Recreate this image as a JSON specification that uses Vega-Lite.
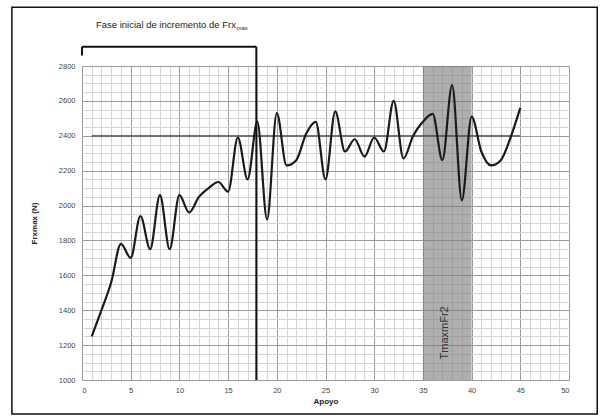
{
  "$schema": "https://vega.github.io/schema/vega-lite/v6.json",
  "width": 487,
  "height": 314,
  "autosize": {"type": "none"},
  "padding": {"left": 82, "top": 66, "right": 31, "bottom": 36},
  "background": "white",
  "config": {
    "view": {"stroke": "#8a8a8a", "strokeWidth": 1},
    "font": "Liberation Sans",
    "axis": {"labelFont": "Liberation Sans", "titleFont": "Liberation Sans"}
  },
  "datasets": {
    "curve": [
      {"apoyo": 1, "frx": 1250}, {"apoyo": 2, "frx": 1400}, {"apoyo": 3, "frx": 1560},
      {"apoyo": 4, "frx": 1780}, {"apoyo": 5, "frx": 1700}, {"apoyo": 6, "frx": 1940},
      {"apoyo": 7, "frx": 1750}, {"apoyo": 8, "frx": 2060}, {"apoyo": 9, "frx": 1750},
      {"apoyo": 10, "frx": 2060}, {"apoyo": 11, "frx": 1960}, {"apoyo": 12, "frx": 2050},
      {"apoyo": 13, "frx": 2100}, {"apoyo": 14, "frx": 2135}, {"apoyo": 15, "frx": 2080},
      {"apoyo": 16, "frx": 2390}, {"apoyo": 17, "frx": 2150}, {"apoyo": 18, "frx": 2480},
      {"apoyo": 19, "frx": 1920}, {"apoyo": 20, "frx": 2530}, {"apoyo": 21, "frx": 2230},
      {"apoyo": 22, "frx": 2260}, {"apoyo": 23, "frx": 2410}, {"apoyo": 24, "frx": 2480},
      {"apoyo": 25, "frx": 2150}, {"apoyo": 26, "frx": 2540}, {"apoyo": 27, "frx": 2310},
      {"apoyo": 28, "frx": 2380}, {"apoyo": 29, "frx": 2280}, {"apoyo": 30, "frx": 2390},
      {"apoyo": 31, "frx": 2310}, {"apoyo": 32, "frx": 2600}, {"apoyo": 33, "frx": 2270},
      {"apoyo": 34, "frx": 2400}, {"apoyo": 35, "frx": 2480}, {"apoyo": 36, "frx": 2525},
      {"apoyo": 37, "frx": 2260}, {"apoyo": 38, "frx": 2690}, {"apoyo": 39, "frx": 2030},
      {"apoyo": 40, "frx": 2510}, {"apoyo": 41, "frx": 2310}, {"apoyo": 42, "frx": 2230},
      {"apoyo": 43, "frx": 2260}, {"apoyo": 44, "frx": 2390}, {"apoyo": 45, "frx": 2560}
    ]
  },
  "resolve": {"axis": {"x": "independent", "y": "independent"}},
  "layer": [
    {
      "data": {"name": "curve"},
      "mark": {"type": "line", "strokeOpacity": 0},
      "encoding": {
        "x": {"field": "apoyo", "type": "quantitative",
          "scale": {"domain": [0, 50], "nice": false, "zero": false},
          "axis": {"orient": "bottom", "values": [0,1,2,3,4,5,6,7,8,9,10,11,12,13,14,15,16,17,18,19,20,21,22,23,24,25,26,27,28,29,30,31,32,33,34,35,36,37,38,39,40,41,42,43,44,45,46,47,48,49,50],
            "grid": true, "gridColor": "#d4d4d4", "gridWidth": 1, "labels": false, "ticks": false, "domain": false, "title": null}},
        "y": {"field": "frx", "type": "quantitative",
          "scale": {"domain": [1000, 2800], "nice": false, "zero": false},
          "axis": {"orient": "left", "values": [1000,1050,1100,1150,1200,1250,1300,1350,1400,1450,1500,1550,1600,1650,1700,1750,1800,1850,1900,1950,2000,2050,2100,2150,2200,2250,2300,2350,2400,2450,2500,2550,2600,2650,2700,2750,2800],
            "grid": true, "gridColor": "#d4d4d4", "gridWidth": 1, "labels": false, "ticks": false, "domain": false, "title": null}}
      }
    },
    {
      "data": {"name": "curve"},
      "mark": {"type": "line", "strokeOpacity": 0},
      "encoding": {
        "x": {"field": "apoyo", "type": "quantitative",
          "axis": {"orient": "bottom", "values": [0,5,10,15,20,25,30,35,40,45,50], "format": "d",
            "grid": true, "gridColor": "#9a9a9a", "gridWidth": 1, "ticks": false, "domain": false,
            "labelFontSize": 7.5, "labelColor": "#444", "labelPadding": 6,
            "title": "Apoyo", "titleFontSize": 8, "titleFontWeight": "bold", "titleColor": "#222", "titlePadding": 4}},
        "y": {"field": "frx", "type": "quantitative",
          "axis": {"orient": "left", "values": [1000,1200,1400,1600,1800,2000,2200,2400,2600,2800], "format": "d",
            "grid": true, "gridColor": "#9a9a9a", "gridWidth": 1, "ticks": false, "domain": false,
            "labelFontSize": 7.5, "labelColor": "#444", "labelPadding": 7,
            "title": "Frxmax (N)", "titleFontSize": 8, "titleFontWeight": "bold", "titleColor": "#222", "titlePadding": 20}}
      }
    },
    {
      "data": {"values": [{"desde": 35, "hasta": 40}]},
      "mark": {"type": "rect", "fill": "#7a7a7a", "opacity": 0.6},
      "encoding": {
        "x": {"field": "desde", "type": "quantitative", "axis": null},
        "x2": {"field": "hasta"},
        "y": {"datum": 1000, "type": "quantitative", "axis": null},
        "y2": {"datum": 2800}
      }
    },
    {
      "data": {"values": [{"desde": 1, "hasta": 45, "nivel": 2400}]},
      "mark": {"type": "rule", "color": "#444", "strokeWidth": 1.3},
      "encoding": {
        "x": {"field": "desde", "type": "quantitative", "axis": null},
        "x2": {"field": "hasta"},
        "y": {"field": "nivel", "type": "quantitative", "axis": null}
      }
    },
    {
      "data": {"name": "curve"},
      "mark": {"type": "line", "interpolate": "monotone", "color": "#1a1a1a", "strokeWidth": 2.2},
      "encoding": {
        "x": {"field": "apoyo", "type": "quantitative", "axis": null},
        "y": {"field": "frx", "type": "quantitative", "axis": null}
      }
    },
    {
      "data": {"values": [
        {"x1": 17.9, "x2": 17.9, "y1": 1000, "y2": 2910},
        {"x1": 0, "x2": 17.9, "y1": 2910, "y2": 2910},
        {"x1": 0, "x2": 0, "y1": 2860, "y2": 2910}
      ]},
      "mark": {"type": "rule", "color": "#111", "strokeWidth": 2, "clip": false},
      "encoding": {
        "x": {"field": "x1", "type": "quantitative", "axis": null},
        "x2": {"field": "x2"},
        "y": {"field": "y1", "type": "quantitative", "axis": null},
        "y2": {"field": "y2"}
      }
    },
    {
      "data": {"values": [{"px": 15.8, "py": 3034, "t": "Fase inicial de incremento de Frx"}]},
      "mark": {"type": "text", "align": "right", "baseline": "middle", "fontSize": 9.5, "color": "#222", "clip": false},
      "encoding": {
        "x": {"field": "px", "type": "quantitative", "axis": null},
        "y": {"field": "py", "type": "quantitative", "axis": null},
        "text": {"field": "t"}
      }
    },
    {
      "data": {"values": [{"px": 15.85, "py": 3016, "t": "max"}]},
      "mark": {"type": "text", "align": "left", "baseline": "middle", "fontSize": 6, "color": "#222", "clip": false},
      "encoding": {
        "x": {"field": "px", "type": "quantitative", "axis": null},
        "y": {"field": "py", "type": "quantitative", "axis": null},
        "text": {"field": "t"}
      }
    },
    {
      "data": {"values": [{"px": 37.3, "py": 1270, "t": "TmaxmFr2"}]},
      "mark": {"type": "text", "angle": 270, "align": "center", "baseline": "middle", "fontSize": 11, "color": "#333"},
      "encoding": {
        "x": {"field": "px", "type": "quantitative", "axis": null},
        "y": {"field": "py", "type": "quantitative", "axis": null},
        "text": {"field": "t"}
      }
    },
    {
      "data": {"values": [{"x1": -7.2, "x2": 52.9, "y1": 3137, "y2": 805}]},
      "mark": {"type": "rect", "fill": null, "stroke": "#111", "strokeWidth": 1.5, "clip": false},
      "encoding": {
        "x": {"field": "x1", "type": "quantitative", "axis": null},
        "x2": {"field": "x2"},
        "y": {"field": "y1", "type": "quantitative", "axis": null},
        "y2": {"field": "y2"}
      }
    }
  ]
}
